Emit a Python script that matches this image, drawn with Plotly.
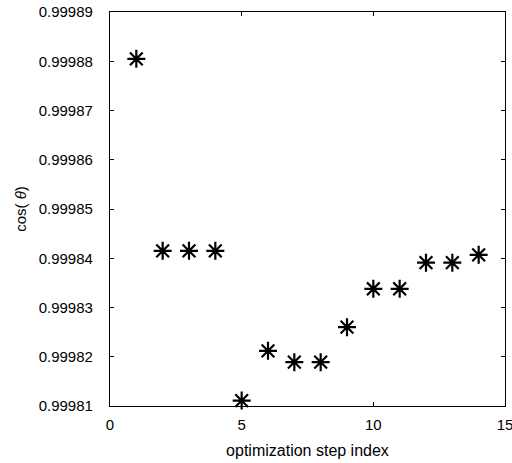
import plotly.graph_objects as go

steps = [1, 2, 3, 4, 5, 6, 7, 8, 9, 10, 11, 12, 13, 14]
cos_theta = [0.9998805, 0.9998415, 0.9998415, 0.9998415, 0.9998111, 0.9998212,
             0.9998189, 0.9998189, 0.9998260, 0.9998338, 0.9998338, 0.9998391,
             0.9998391, 0.9998407]
y_ticks = [0.99981, 0.99982, 0.99983, 0.99984, 0.99985, 0.99986, 0.99987, 0.99988, 0.99989]
y_ticklabels = ["0.99981", "0.99982", "0.99983", "0.99984", "0.99985", "0.99986", "0.99987", "0.99988", "0.99989"]
x_ticks = [0, 5, 10, 15]

fig = go.Figure()
fig.add_trace(go.Scatter(
    x=steps, y=cos_theta, mode="markers",
    marker=dict(symbol="asterisk-open", size=15, color="black",
                line=dict(color="black", width=2.2)),
    showlegend=False, cliponaxis=False,
))

axis_common = dict(
    showline=True, linecolor="black", linewidth=1.2, mirror="ticks",
    ticks="inside", ticklen=4, tickcolor="black", tickwidth=1,
    showgrid=False, zeroline=False, automargin=False,
    ticklabeloverflow="allow",
    tickfont=dict(family="Liberation Sans, Arial, sans-serif", size=15, color="black"),
)

fig.update_layout(
    width=512, height=463,
    margin=dict(l=110, r=7, t=12, b=57),
    paper_bgcolor="white", plot_bgcolor="white",
    font=dict(family="Liberation Sans, Arial, sans-serif", size=15, color="black"),
    xaxis=dict(range=[0, 15], tickvals=x_ticks, ticklabelstandoff=5,
               title=dict(text="optimization step index", standoff=12,
                          font=dict(size=16)),
               **axis_common),
    yaxis=dict(range=[0.99981, 0.99989], tickvals=y_ticks, ticktext=y_ticklabels,
               ticklabelstandoff=13,
               title=dict(text="cos(\u00a0<i>θ</i>)", standoff=8, font=dict(size=15)),
               **axis_common),
)

fig.write_html("out.html")
